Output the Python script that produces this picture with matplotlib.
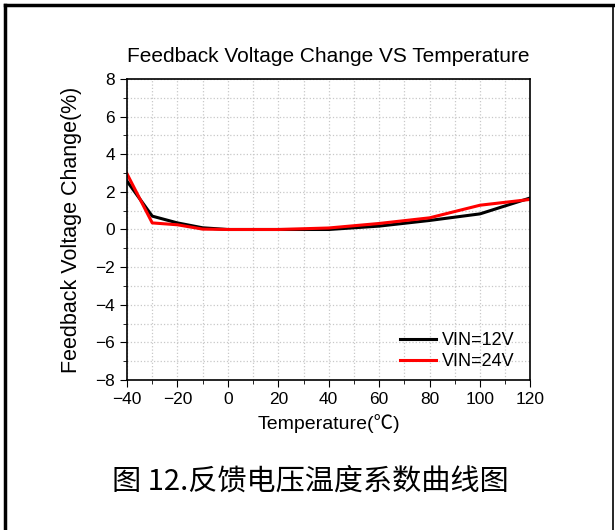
import matplotlib.pyplot as plt
from matplotlib.ticker import MultipleLocator
from matplotlib.lines import Line2D

plt.rcParams['font.family'] = ['Liberation Sans', 'Noto Sans CJK SC', 'DejaVu Sans']

# 温度 (℃)
temp = [-40, -30, -20, -10, 0, 20, 40, 60, 80, 100, 120]
# 反馈电压变化 (%)
vin12 = [2.57, 0.71, 0.35, 0.09, 0.0, 0.0, 0.0, 0.18, 0.48, 0.83, 1.68]
vin24 = [2.96, 0.35, 0.25, 0.02, 0.0, 0.0, 0.08, 0.32, 0.62, 1.29, 1.60]

fig = plt.figure(figsize=(6.15, 5.30), dpi=100)
ax = fig.add_axes([0.2065, 0.283, 0.656, 0.568])

ax.plot(temp, vin12, color='black', lw=2.2, label='VIN=12V')
ax.plot(temp, vin24, color='red', lw=2.2, label='VIN=24V')

ax.set_xlim(-40, 120)
ax.set_ylim(-8, 8)
ax.xaxis.set_major_locator(MultipleLocator(20))
ax.xaxis.set_minor_locator(MultipleLocator(10))
ax.yaxis.set_major_locator(MultipleLocator(2))
ax.yaxis.set_minor_locator(MultipleLocator(1))
ax.grid(True, which='both', color='#c8c8c8', ls=':', lw=0.9)
ax.tick_params(which='both', direction='out', labelsize=12.5)
ax.tick_params(which='major', length=5)
ax.tick_params(which='minor', length=3)
for s in ax.spines.values():
    s.set_linewidth(1.2)

ax.set_title('Feedback Voltage Change VS Temperature', fontsize=15, pad=12)
ax.set_xlabel('Temperature(℃)', fontsize=14, labelpad=5)
ax.set_ylabel('Feedback Voltage Change(%)', fontsize=15.5, labelpad=10)
ax.legend(loc='lower right', frameon=False, fontsize=13, handlelength=2.0,
          handletextpad=0.3, labelspacing=0.2, borderaxespad=0.15,
          bbox_to_anchor=(0.985, 0.0))

fig.text(0.505, 0.092, '图 12.反馈电压温度系数曲线图', ha='center', va='center',
         fontsize=21, family=['Noto Sans CJK SC', 'DejaVu Sans'])

# 外框
fig.add_artist(Line2D([0.008, 0.008], [0, 0.99], transform=fig.transFigure, color='black', lw=2.5))
fig.add_artist(Line2D([0.008, 1.0], [0.99, 0.99], transform=fig.transFigure, color='black', lw=2.5))
fig.add_artist(Line2D([0.997, 0.997], [0, 0.99], transform=fig.transFigure, color='black', lw=1.2))

fig.savefig('out.png', dpi=100)
